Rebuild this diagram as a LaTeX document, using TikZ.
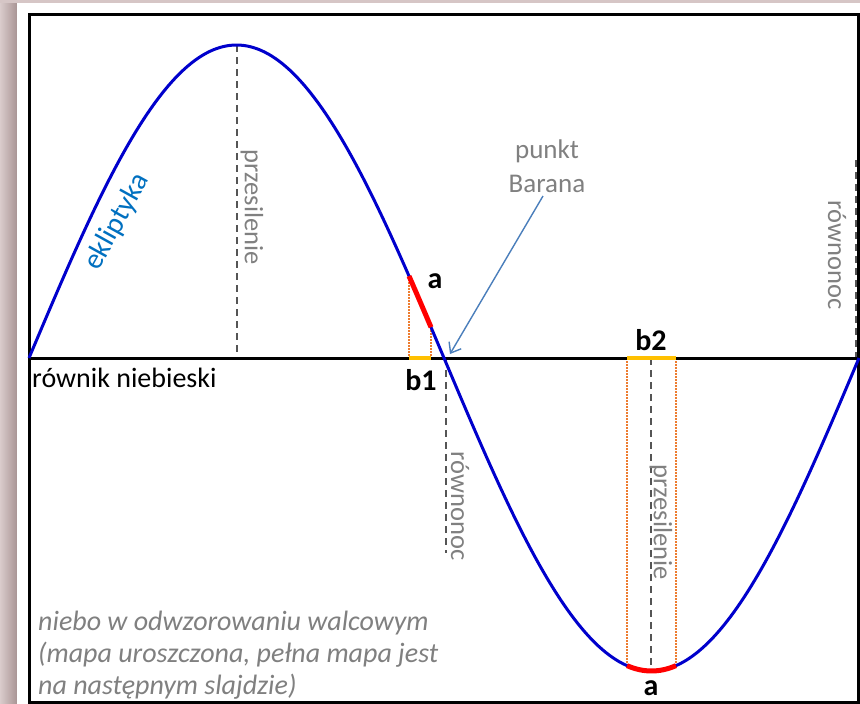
\documentclass[tikz,border=0pt]{standalone}
\usepackage{fontspec}
\setmainfont{Carlito}
\usepackage{xcolor}
\usepackage{tikz}
\usetikzlibrary{arrows.meta}

\definecolor{ekblue}{RGB}{0,0,204}
\definecolor{eklabel}{RGB}{0,112,192}
\definecolor{txtgray}{RGB}{128,128,128}
\definecolor{dashgray}{RGB}{85,85,85}
\definecolor{segred}{RGB}{255,0,0}
\definecolor{segyellow}{RGB}{255,192,0}
\definecolor{projorange}{RGB}{237,125,49}
\definecolor{arrowblue}{RGB}{74,126,187}
\definecolor{slidebg}{RGB}{214,198,198}
\definecolor{slideshadow}{RGB}{168,148,148}

\begin{document}
\begin{tikzpicture}[x=1pt,y=-1pt,
    declare function={ek(\x)=358-313*sin(0.4337349*(\x-29));},
    marker/.style={dashgray,line width=2pt,dash pattern=on 7pt off 5pt},
    proj/.style={projorange,line width=1.4pt,dash pattern=on 1.5pt off 1.5pt},
    vlabel/.style={txtgray,rotate=-90,font=\fontsize{26.5}{32}\selectfont},
    seglabel/.style={font=\fontsize{30}{36}\selectfont\bfseries}]
			\useasboundingbox (0,0) rectangle (860,704);
			% slide background
			\fill[slidebg] (0,0) rectangle (860,704);
			\shade[left color=slidebg!90!white,right color=slideshadow] (0,3) rectangle (17,704);
			\fill[white] (17,3) rectangle (860,704);
			\draw[black,line width=3pt] (29,14) rectangle (858.5,702.5);
			% solstices and equinoxes
			\coordinate (summer) at (237,{ek(237)});
			\coordinate (summereq) at (237,358);
			\coordinate (winter) at (651,{ek(651)});
			\coordinate (wintereq) at (651,358);
			\coordinate (spring) at (446,358);
			\coordinate (springend) at (446,553);
			\coordinate (autumn) at (856,160);
			\coordinate (autumneq) at (856,358);
			\draw[marker] (summer) -- (summereq);
			\draw[marker] (wintereq) -- (winter);
			\draw[marker] (spring) -- (springend);
			\draw[marker] (autumn) -- (autumneq);
			\node[vlabel] (przes1) at (252,207) {przesilenie};
			\node[vlabel] (przes2) at (661,522) {przesilenie};
			\node[vlabel] (rown1) at (460,506) {równonoc};
			\node[vlabel] (rown2) at (837,255) {równonoc};
			% projections of the arcs a
			\coordinate (a1s) at (409,{ek(409)});
			\coordinate (a1e) at (431,{ek(431)});
			\coordinate (b1s) at (409,358);
			\coordinate (b1e) at (431,358);
			\coordinate (a2s) at (627,{ek(627)});
			\coordinate (a2e) at (676,{ek(676)});
			\coordinate (b2s) at (627,358);
			\coordinate (b2e) at (676,358);
			\draw[proj] (a1s) -- (b1s);
			\draw[proj] (a1e) -- (b1e);
			\draw[proj] (a2s) -- (b2s);
			\draw[proj] (a2e) -- (b2e);
			% equator and ecliptic
			\draw[black,line width=3pt] (29,358) -- (859,358);
			\draw[ekblue,line width=3pt,domain=29:859,samples=240] plot (\x,{ek(\x)});
			\draw[segred,line width=5pt,domain=409:431,samples=10] plot (\x,{ek(\x)});
			\draw[segred,line width=5pt,domain=627:676,samples=20] plot (\x,{ek(\x)});
			\draw[segyellow,line width=4.5pt] (b1s) -- (b1e);
			\draw[segyellow,line width=4.5pt] (b2s) -- (b2e);
			\node[seglabel] (a1) at (435,281) {a};
			\node[seglabel] (b1) at (421,380) {b1};
			\node[seglabel] (b2) at (651,340) {b2};
			\node[seglabel] (a2) at (651,688) {a};
			% labels
			\node[eklabel,rotate=61,font=\fontsize{29}{34}\selectfont] (ekl) at (117,222) {ekliptyka};
			\node[anchor=base west,inner sep=0pt,font=\fontsize{28}{34}\selectfont] (rownik) at (32,387) {równik niebieski};
			\node[txtgray,align=center,font=\fontsize{27}{34}\selectfont] (baran) at (547,166) {punkt\\Barana};
			\coordinate (aries) at (450,354);
			\draw[arrowblue,line width=1.4pt,-{Straight Barb[length=9pt,width=14pt]}] ([xshift=-4pt]baran.south) -- (aries);
			\node[txtgray,anchor=north west,align=left,inner sep=0pt,font=\fontsize{28}{32}\selectfont\itshape] (opis) at (38,611) {niebo w odwzorowaniu walcowym\\(mapa uroszczona, pełna mapa jest\\na następnym slajdzie)};
		\end{tikzpicture}
\end{document}
